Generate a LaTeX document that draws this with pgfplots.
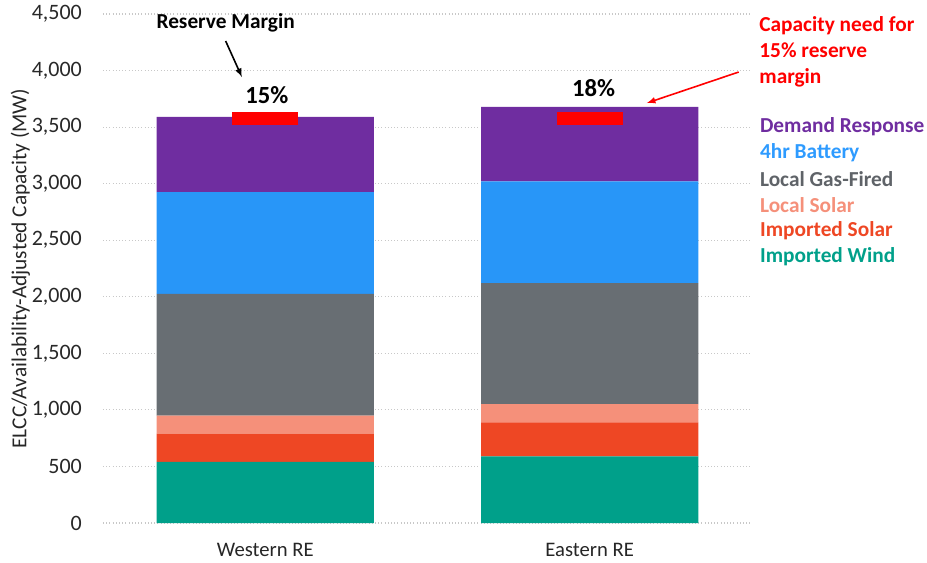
\documentclass[border=0pt]{standalone}
\usepackage{pgfplots}
\pgfplotsset{compat=1.18}
\usepackage{fontspec}
\setmainfont{Carlito}
\definecolor{cWind}{RGB}{0,160,138}
\definecolor{cImpSolar}{RGB}{238,71,36}
\definecolor{cLocSolar}{RGB}{245,144,122}
\definecolor{cGas}{RGB}{104,110,115}
\definecolor{cBatt}{RGB}{40,150,248}
\definecolor{cDR}{RGB}{111,45,160}
\definecolor{cBattTxt}{RGB}{46,155,255}
\definecolor{cGasTxt}{RGB}{95,99,104}
\definecolor{tickgray}{RGB}{40,40,40}
\definecolor{gridgray}{RGB}{200,200,200}
\pgfplotsset{
  common/.style={
    scale only axis, width=486.75pt, height=381.75pt,
    xmin=-0.5, xmax=1.5, ymin=0, ymax=4500,
    clip=false,
  }
}
\begin{document}
\begin{tikzpicture}
\fontsize{15.5}{18}\selectfont
\begin{axis}[common,
  ybar stacked, bar width=0.669,
  axis line style={draw=none},
  xtick={0,1}, xticklabels={Western RE, Eastern RE},
  ytick={0,500,...,4500},
  major tick length=0pt,
  ymajorgrids, grid style={gridgray, dotted, line width=0.8pt},
  /pgf/number format/1000 sep={,},
  /pgf/number format/assume math mode=true,
  yticklabel style={font=\fontsize{16.5}{18}\selectfont, text=tickgray, anchor=east, xshift=-10.5pt},
  xticklabel style={font=\fontsize{15.5}{18}\selectfont, text=black!85, yshift=-10pt},
]
\addplot[fill=cWind, draw=none] coordinates {(0,540) (1,590)};
\addplot[fill=cImpSolar, draw=none] coordinates {(0,250) (1,300)};
\addplot[fill=cLocSolar, draw=none] coordinates {(0,160) (1,160)};
\addplot[fill=cGas, draw=none] coordinates {(0,1075) (1,1070)};
\addplot[fill=cBatt, draw=none] coordinates {(0,900) (1,900)};
\addplot[fill=cDR, draw=none] coordinates {(0,665) (1,660)};
\coordinate (sw) at (rel axis cs:0,0);
\end{axis}
\begin{axis}[common, hide axis]
\addplot[only marks, mark=-, mark size=24.75pt, mark options={draw=red, line width=9.75pt}] coordinates {(0,3578) (1,3578)};
\node[rotate=90, text=black!85, font=\fontsize{16}{18}\selectfont] at ([xshift=-62pt]rel axis cs:0,0.5) {ELCC/Availability-Adjusted Capacity (MW)};
\node[font=\bfseries\fontsize{16}{18}\selectfont] at (axis cs:-0.122,4420) {Reserve Margin};
\draw[-latex, line width=1.2pt] (axis cs:-0.122,4261) -- (axis cs:-0.072,3943);
\node[font=\bfseries\fontsize{18.5}{20}\selectfont] at (axis cs:0.005,3784) {15\%};
\node[font=\bfseries\fontsize{18.5}{20}\selectfont] at (axis cs:1.012,3846) {18\%};
\draw[-latex, red, line width=1.2pt] (axis cs:1.459,3987) -- (axis cs:1.176,3713);
\node[font=\bfseries\fontsize{16}{19.5}\selectfont, text=red, anchor=north west, align=left, inner sep=0pt] at (rel axis cs:1.011,0.995) {Capacity need for\\15\% reserve\\margin};
\begin{scope}[every node/.style={font=\bfseries\fontsize{16}{18}\selectfont, anchor=west, inner sep=0pt}]
\node[text=cDR] at (rel axis cs:1.012,0.778) {Demand Response};
\node[text=cBattTxt] at (rel axis cs:1.012,0.727) {4hr Battery};
\node[text=cGasTxt] at (rel axis cs:1.012,0.676) {Local Gas-Fired};
\node[text=cLocSolar] at (rel axis cs:1.012,0.625) {Local Solar};
\node[text=cImpSolar] at (rel axis cs:1.012,0.574) {Imported Solar};
\node[text=cWind] at (rel axis cs:1.012,0.523) {Imported Wind};
\end{scope}
\end{axis}
\pgfresetboundingbox
\path[use as bounding box] ([shift={(-77.25pt,-29.25pt)}]sw) rectangle ++(695.25pt,421.5pt);
\end{tikzpicture}
\end{document}
